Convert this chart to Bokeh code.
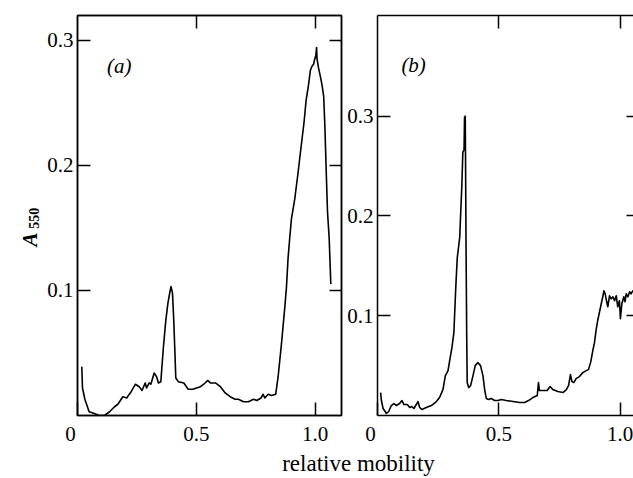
import math
from bokeh.plotting import figure
from bokeh.models import Label, LinearAxis, FixedTicker, Range1d
from bokeh.layouts import row, column
from bokeh.embed import file_html
from bokeh.resources import INLINE

# ---- data ----
xa = [0.017, 0.020, 0.030, 0.048, 0.064, 0.092, 0.113, 0.134, 0.155, 0.169,
      0.190, 0.206, 0.225, 0.243, 0.259, 0.271, 0.284, 0.290, 0.301, 0.308,
      0.322, 0.332, 0.340, 0.350, 0.361, 0.371, 0.380, 0.389, 0.393, 0.399,
      0.404, 0.410, 0.413, 0.424, 0.447, 0.465, 0.485, 0.500, 0.517, 0.531,
      0.547, 0.559, 0.580, 0.601, 0.621, 0.642, 0.663, 0.677, 0.698, 0.719,
      0.740, 0.754, 0.772, 0.781, 0.788, 0.802, 0.816, 0.834, 0.844, 0.858,
      0.872, 0.879, 0.886, 0.893, 0.900, 0.914, 0.928, 0.941, 0.953, 0.962,
      0.972, 0.980, 0.986, 0.994, 0.997, 1.003, 1.006, 1.008, 1.014, 1.022,
      1.029, 1.036, 1.041, 1.046, 1.052, 1.059, 1.063, 1.066]
ya = [0.039, 0.022, 0.013, 0.003, 0.002, 0.000, 0.000, 0.003, 0.007, 0.009,
      0.015, 0.014, 0.019, 0.025, 0.023, 0.020, 0.026, 0.022, 0.026, 0.025,
      0.034, 0.031, 0.026, 0.027, 0.055, 0.076, 0.090, 0.0995, 0.103, 0.098,
      0.078, 0.047, 0.030, 0.027, 0.026, 0.021, 0.021, 0.022, 0.023, 0.025,
      0.028, 0.026, 0.026, 0.023, 0.018, 0.015, 0.013, 0.013, 0.011, 0.011,
      0.013, 0.012, 0.014, 0.017, 0.014, 0.017, 0.016, 0.017, 0.031, 0.057,
      0.086, 0.102, 0.126, 0.142, 0.157, 0.173, 0.194, 0.215, 0.234, 0.252,
      0.264, 0.276, 0.279, 0.281, 0.284, 0.288, 0.294, 0.285, 0.278, 0.271,
      0.264, 0.255, 0.231, 0.199, 0.163, 0.142, 0.121, 0.105]

xb = [0.012, 0.015, 0.022, 0.036, 0.045, 0.056, 0.067, 0.077, 0.090, 0.100,
      0.108, 0.122, 0.132, 0.141, 0.149, 0.159, 0.166, 0.173, 0.182, 0.200,
      0.221, 0.242, 0.255, 0.269, 0.279, 0.290, 0.296, 0.306, 0.314, 0.322,
      0.328, 0.338, 0.347, 0.351, 0.356, 0.358, 0.361, 0.362, 0.364, 0.365,
      0.367, 0.369, 0.375, 0.383, 0.393, 0.402, 0.413, 0.424, 0.434, 0.441,
      0.448, 0.457, 0.468, 0.482, 0.496, 0.510, 0.530, 0.558, 0.585, 0.606,
      0.622, 0.640, 0.658, 0.663, 0.667, 0.681, 0.699, 0.711, 0.722, 0.743,
      0.764, 0.778, 0.787, 0.795, 0.801, 0.809, 0.818, 0.832, 0.846, 0.860,
      0.869, 0.878, 0.888, 0.894, 0.901, 0.908, 0.915, 0.922, 0.929, 0.933,
      0.938, 0.942, 0.949, 0.956, 0.963, 0.970, 0.977, 0.984, 0.990, 0.997,
      1.001, 1.007, 1.015, 1.020, 1.025, 1.032, 1.039, 1.045, 1.052, 1.059]
yb = [0.023, 0.015, 0.007, 0.002, 0.004, 0.010, 0.012, 0.010, 0.012, 0.015,
      0.011, 0.011, 0.008, 0.009, 0.007, 0.011, 0.014, 0.008, 0.006, 0.008,
      0.010, 0.014, 0.018, 0.026, 0.040, 0.045, 0.054, 0.068, 0.083, 0.129,
      0.158, 0.178, 0.231, 0.264, 0.266, 0.299, 0.300, 0.264, 0.178, 0.145,
      0.079, 0.033, 0.028, 0.030, 0.040, 0.050, 0.053, 0.050, 0.040, 0.026,
      0.017, 0.016, 0.017, 0.015, 0.015, 0.016, 0.015, 0.014, 0.013, 0.013,
      0.015, 0.018, 0.020, 0.033, 0.025, 0.025, 0.025, 0.029, 0.026, 0.024,
      0.023, 0.026, 0.030, 0.041, 0.034, 0.033, 0.037, 0.039, 0.043, 0.045,
      0.046, 0.053, 0.066, 0.073, 0.086, 0.096, 0.104, 0.112, 0.120, 0.125,
      0.122, 0.117, 0.109, 0.120, 0.117, 0.119, 0.115, 0.120, 0.109, 0.115,
      0.097, 0.112, 0.119, 0.114, 0.122, 0.119, 0.124, 0.122, 0.125, 0.125]

y_ticks = [0.1, 0.2, 0.3]
y_tick_labels = ["0.1", "0.2", "0.3"]
x_ticks = [0, 0.5, 1.0]
x_tick_labels = ["0\u2007\u2009", "0.5", "1.0"]
top_ticks = [0.5, 1.0]
panel_names = ["(a)", "(b)"]
x_title = "relative mobility"
y_title_main = "A"
y_title_sub = "550"

FONT = "serif"
TICK_FS = "21px"
LW = 1.5
H = 448
YW = 44


def styled_axis(ticks, labels, tick_len, show_labels, line):
    ax = LinearAxis()
    ax.ticker = FixedTicker(ticks=ticks)
    ax.major_label_overrides = {t: s for t, s in zip(ticks, labels)}
    ax.minor_tick_line_color = None
    ax.major_tick_in = tick_len
    ax.major_tick_out = 0
    ax.major_tick_line_width = LW
    ax.major_tick_line_color = "black"
    ax.axis_line_width = LW
    ax.axis_line_color = "black" if line else None
    ax.major_label_text_font = FONT
    ax.major_label_text_color = "black"
    if show_labels:
        ax.major_label_text_font_size = TICK_FS
    else:
        ax.major_label_text_font_size = "0px"
        ax.major_label_standoff = 0
    return ax


def make_panel(xs, ys, width, mbl, mbr, xr, yr, right_tick, right_line):
    p = figure(width=width, height=H, output_backend="svg", toolbar_location=None,
               x_range=Range1d(*xr), y_range=Range1d(*yr),
               min_border_left=mbl, min_border_right=mbr,
               min_border_top=15, min_border_bottom=28,
               x_axis_location=None, y_axis_location=None)
    p.grid.visible = False
    p.background_fill_color = "white"
    p.border_fill_color = "white"
    if right_line:
        p.outline_line_color = "black"
        p.outline_line_width = LW
    else:
        p.outline_line_color = None

    left = styled_axis(y_ticks, y_tick_labels, 13, True, True)
    left.major_label_standoff = 4
    p.add_layout(left, "left")
    bottom = styled_axis(x_ticks, x_tick_labels, 13, True, True)
    bottom.major_label_standoff = 6
    p.add_layout(bottom, "below")
    p.add_layout(styled_axis(top_ticks, ["", ""], 13, False, True), "above")
    p.add_layout(styled_axis(y_ticks, ["", "", ""], right_tick, False, right_line), "right")

    p.line(xs, ys, line_color="black", line_width=1.6, line_join="round")
    return p


# y-title strip
py = figure(width=YW, height=H, output_backend="svg", toolbar_location=None,
            x_range=Range1d(0, YW), y_range=Range1d(H, 0),
            min_border=0, x_axis_location=None, y_axis_location=None)
py.grid.visible = False
py.outline_line_color = None
py.add_layout(Label(x=29.5, y=251, text=y_title_main, angle=math.pi / 2,
                    text_align="center", text_baseline="middle", text_font=FONT,
                    text_font_style="bold italic", text_font_size="21px", text_color="black"))
py.add_layout(Label(x=33.5, y=227, text=y_title_sub, angle=math.pi / 2,
                    text_align="center", text_baseline="middle", text_font=FONT,
                    text_font_style="bold", text_font_size="14px", text_color="black"))

pa = make_panel(xa, ya, 299, 75 - YW, 2, (-0.001, 1.111), (0, 0.3197), 12, True)
pb = make_panel(xb, yb, 290, 34, 0, (-0.001, 1.055), (0, 0.401), 7, False)

pa.add_layout(Label(x=0.175, y=0.2795, text=panel_names[0], text_align="center",
                    text_baseline="middle", text_font=FONT, text_font_style="italic",
                    text_font_size="21px", text_color="black"))
pb.add_layout(Label(x=0.148, y=0.351, text=panel_names[1], text_align="center",
                    text_baseline="middle", text_font=FONT, text_font_style="italic",
                    text_font_size="21px", text_color="black"))

# x title strip
pl = figure(width=633, height=30, output_backend="svg", toolbar_location=None,
            x_range=Range1d(0, 633), y_range=Range1d(0, 30),
            min_border=0, x_axis_location=None, y_axis_location=None)
pl.grid.visible = False
pl.outline_line_color = None
pl.add_layout(Label(x=358, y=15, text=x_title, text_align="center",
                    text_baseline="middle", text_font=FONT,
                    text_font_size="23px", text_color="black"))

layout = column(row(py, pa, pb), pl)
open("out.html", "w").write(file_html(layout, INLINE))
